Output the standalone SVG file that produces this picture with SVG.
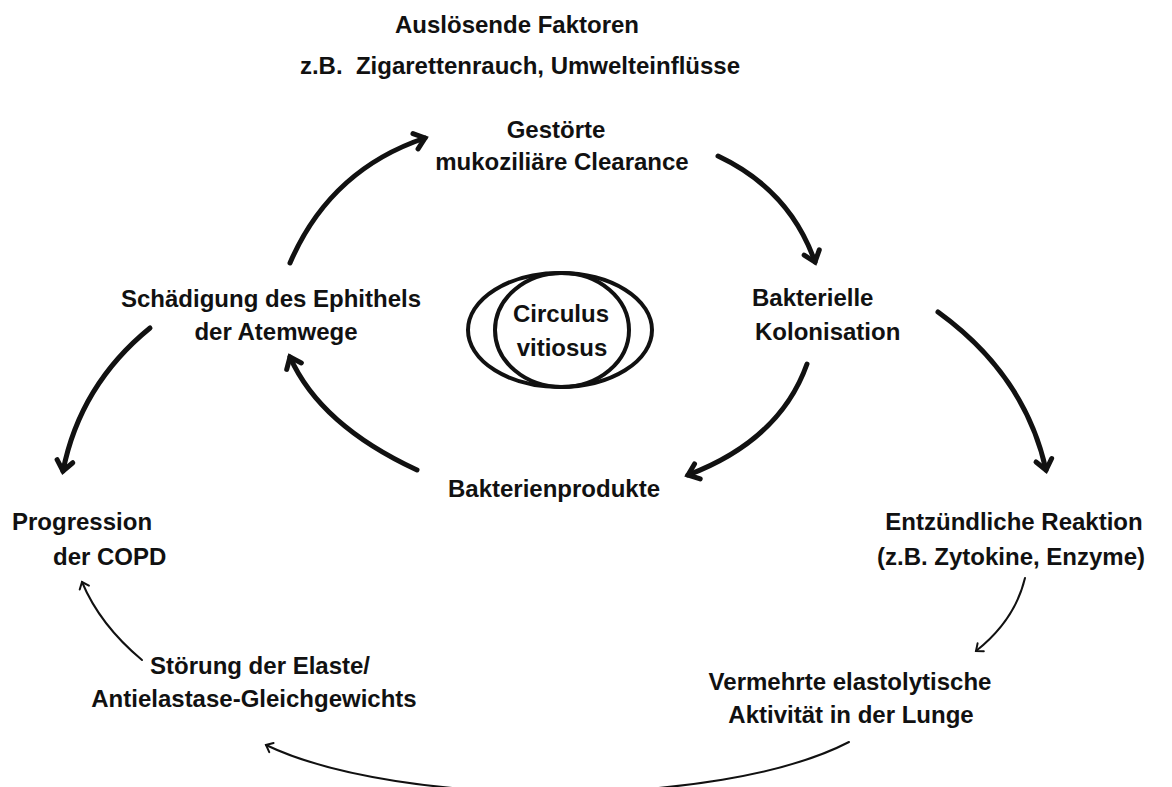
<svg xmlns="http://www.w3.org/2000/svg" width="1172" height="787" viewBox="0 0 1172 787">
<style>
text{font-family:"Liberation Sans",Arial,sans-serif;font-weight:bold;font-size:24px;fill:#111;}
.c{text-anchor:middle;}
.thick{fill:none;stroke:#111;stroke-width:5;stroke-linecap:round;marker-end:url(#mt);}
.thin{fill:none;stroke:#111;stroke-width:2;stroke-linecap:round;marker-end:url(#ms);}
.ell{fill:none;stroke:#111;stroke-width:4;}
</style>
<defs>
<marker id="mt" markerUnits="userSpaceOnUse" markerWidth="30" markerHeight="30" refX="15" refY="15" orient="auto" overflow="visible">
<path d="M5,7 L15,15 L5,23" fill="none" stroke="#111" stroke-width="5" stroke-linecap="round" stroke-linejoin="miter"/>
</marker>
<marker id="ms" markerUnits="userSpaceOnUse" markerWidth="20" markerHeight="20" refX="10" refY="10" orient="auto" overflow="visible">
<path d="M4,5 L10,10 L4,15" fill="none" stroke="#111" stroke-width="2" stroke-linecap="round"/>
</marker>
</defs>
<g id="header">
<text class="c" x="517" y="33">Auslösende Faktoren</text>
<text class="c" x="520" y="74" xml:space="preserve">z.B.  Zigarettenrauch, Umwelteinflüsse</text>
</g>
<g id="clearance">
<text class="c" x="556" y="138">Gestörte</text>
<text class="c" x="562" y="170">mukoziliäre Clearance</text>
</g>
<g id="kolonisation">
<text x="752" y="306">Bakterielle</text>
<text x="755" y="340">Kolonisation</text>
</g>
<g id="schaedigung">
<text class="c" x="271" y="307">Schädigung des Ephithels</text>
<text class="c" x="276" y="340">der Atemwege</text>
</g>
<g id="circulus">
<ellipse class="ell" cx="560" cy="330" rx="92" ry="57"/>
<ellipse class="ell" cx="562" cy="330" rx="67" ry="57"/>
<text class="c" x="561" y="322">Circulus</text>
<text class="c" x="562" y="356">vitiosus</text>
</g>
<g id="produkte">
<text class="c" x="554" y="497">Bakterienprodukte</text>
</g>
<g id="progression">
<text x="12" y="530">Progression</text>
<text x="53" y="565">der COPD</text>
</g>
<g id="entzuendung">
<text class="c" x="1014" y="530">Entzündliche Reaktion</text>
<text class="c" x="1011" y="565">(z.B. Zytokine, Enzyme)</text>
</g>
<g id="stoerung">
<text class="c" x="260" y="674">Störung der Elaste/</text>
<text class="c" x="254" y="707">Antielastase-Gleichgewichts</text>
</g>
<g id="elastolyse">
<text class="c" x="850" y="690">Vermehrte elastolytische</text>
<text class="c" x="851" y="723">Aktivität in der Lunge</text>
</g>
<g id="connectors">
<path class="thick" d="M290,263 Q330,170 425,138"/>
<path class="thick" d="M718,156 Q790,190 815,262"/>
<path class="thick" d="M938,312 Q1025,375 1046,470"/>
<path class="thick" d="M807,364 Q780,440 688,475"/>
<path class="thick" d="M417,470 Q320,425 290,357"/>
<path class="thick" d="M150,328 Q80,385 63,471"/>
<path class="thin" d="M142,660 Q100,625 82,582"/>
<path class="thin" d="M1025,578 Q1015,620 976,651"/>
<path class="thin" d="M849,742 C720,809 400,809 266,745"/>
</g>
</svg>
